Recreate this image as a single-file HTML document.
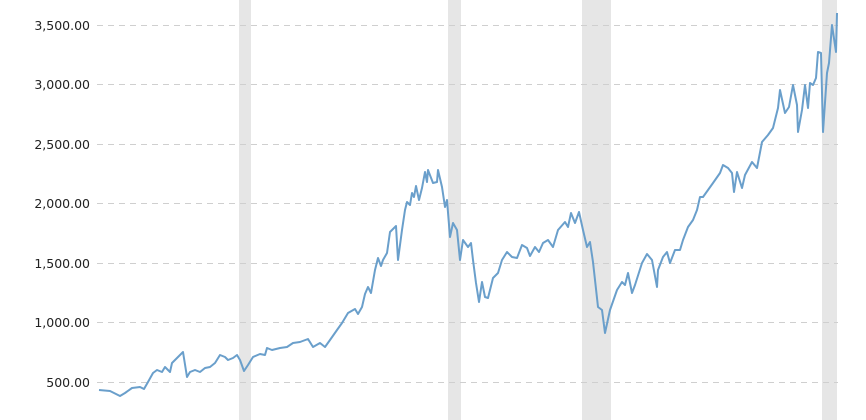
<!DOCTYPE html>
<html><head><style>
html,body{margin:0;padding:0;background:#fff;}
svg{display:block;}
text{font-family:"DejaVu Sans","Liberation Sans",sans-serif;font-size:12.5px;fill:#222;}
</style></head><body>
<svg width="866" height="420" viewBox="0 0 866 420">
<rect x="239" y="0" width="12" height="420" fill="#e6e6e6"/>
<rect x="448" y="0" width="13" height="420" fill="#e6e6e6"/>
<rect x="582" y="0" width="29" height="420" fill="#e6e6e6"/>
<rect x="822" y="0" width="15" height="420" fill="#e6e6e6"/>
<g stroke="#cfcfcf" stroke-width="1" stroke-dasharray="6,5">
<line x1="97" x2="838" y1="25.5" y2="25.5"/>
<line x1="97" x2="838" y1="84.5" y2="84.5"/>
<line x1="97" x2="838" y1="144.5" y2="144.5"/>
<line x1="97" x2="838" y1="203.5" y2="203.5"/>
<line x1="97" x2="838" y1="263.5" y2="263.5"/>
<line x1="97" x2="838" y1="322.5" y2="322.5"/>
<line x1="97" x2="838" y1="382.5" y2="382.5"/>
</g>
<g text-anchor="end">
<text x="90" y="30">3,500.00</text>
<text x="90" y="89">3,000.00</text>
<text x="90" y="149">2,500.00</text>
<text x="90" y="208">2,000.00</text>
<text x="90" y="268">1,500.00</text>
<text x="90" y="327">1,000.00</text>
<text x="90" y="387">500.00</text>
</g>
<polyline fill="none" stroke="#6a9fcb" stroke-width="2" stroke-linejoin="round" points="
99,390 110,391 120,396 125,393 132,388 140,387 144,389 148,382 153,373 157,370 162,372 165,367 170,372 172,363 177,358 183,352 187,377 190,372 195,370 200,372 205,368 210,367 215,363 220,355 225,357 228,360 233,358 237,355 240,360 244,371 248,365 253,357 260,354 265,355 267,348 272,350 280,348 287,347 293,343 300,342
308,339 313,347 320,343 325,347 330,340 337,330 342,323 348,313 355,309 358,314 362,307 365,294 368,287 371,293 375,270 378,258 381,266 383,260 387,253 390,232 393,229 396,226 398,260 402,230 405,210 407,202 410,205 412,193 414,197 416,186 419,200 422,188 425,172 427,182 428,170 433,183 437,182 438,170 442,187 445,207 447,200 450,237 453,223 457,230 460,260 463,240 468,247 471,243 473,260 476,283 479,302 482,282 485,297 488,298 493,278 498,273 502,260 507,252 512,257 517,258 522,245 527,248 530,256 535,247 539,252 543,243 548,240 553,247 558,230 565,222 568,227 571,213 575,223 579,212 583,230 587,247 590,242 593,262 598,307 602,310 605,333 610,310 617,290 622,282 625,285 628,273 632,293 635,285 642,263 647,254 652,260 657,287 658,270 663,257 667,252 670,263 675,250 680,250 683,240 688,227 693,220 697,210 700,197 703,197 708,190 713,183 720,173 723,165 728,168 732,173 734,192 737,172 742,188 745,175 752,162 757,168 762,142 768,135 773,128 778,108 780,90 785,113 789,107 793,85 797,105 798,132 802,110 805,85 808,108 810,83 813,85 816,78 818,52 821,53 823,132 827,73 829,63 832,25 836,52 837,13"/>
</svg>
</body></html>
